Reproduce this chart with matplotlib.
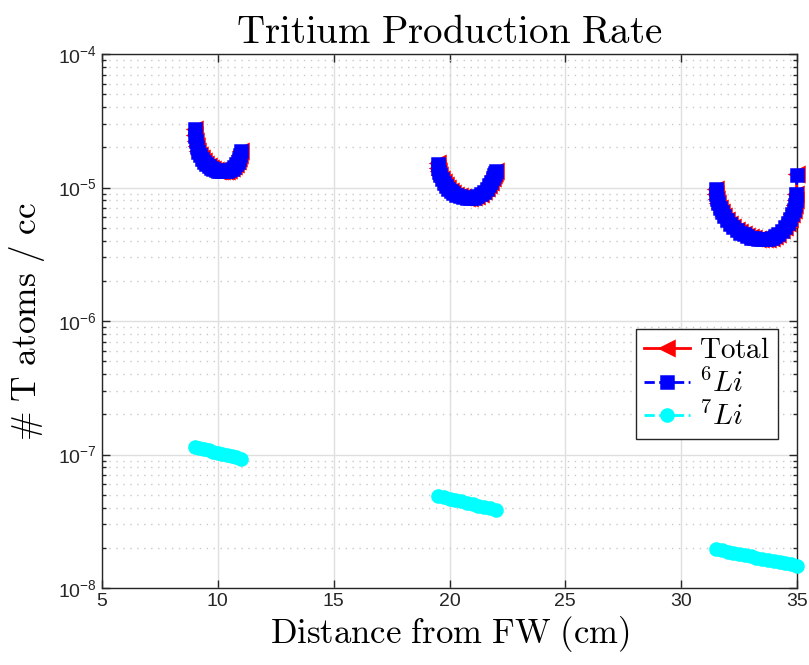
import matplotlib
matplotlib.use("Agg")
import matplotlib.pyplot as plt
import numpy as np

plt.rcParams["mathtext.fontset"] = "custom"
plt.rcParams["mathtext.rm"] = "Liberation Sans"
plt.rcParams["mathtext.it"] = "Liberation Sans:italic"
plt.rcParams["mathtext.bf"] = "Liberation Sans:bold"
plt.rcParams["font.family"] = ["Liberation Sans", "DejaVu Sans"]

# Breeder zone 1 (9-11 cm)
x_z1 = [9.00, 9.02, 9.05, 9.10, 9.16, 9.23, 9.31, 9.40, 9.50, 9.60, 9.70, 9.80, 9.90,
        10.00, 10.10, 10.20, 10.30, 10.40, 10.50, 10.60, 10.70, 10.78, 10.85, 10.91,
        10.96, 11.00]
li6_z1 = [2.72e-5, 2.45e-5, 2.22e-5, 2.02e-5, 1.86e-5, 1.74e-5, 1.64e-5, 1.56e-5,
          1.49e-5, 1.44e-5, 1.40e-5, 1.37e-5, 1.35e-5, 1.33e-5, 1.32e-5, 1.32e-5,
          1.32e-5, 1.33e-5, 1.35e-5, 1.38e-5, 1.43e-5, 1.49e-5, 1.56e-5, 1.64e-5,
          1.74e-5, 1.88e-5]
tot_z1 = [2.73e-5, 2.46e-5, 2.23e-5, 2.03e-5, 1.87e-5, 1.75e-5, 1.65e-5, 1.57e-5,
          1.50e-5, 1.45e-5, 1.41e-5, 1.38e-5, 1.36e-5, 1.34e-5, 1.33e-5, 1.33e-5,
          1.33e-5, 1.34e-5, 1.36e-5, 1.39e-5, 1.44e-5, 1.50e-5, 1.57e-5, 1.65e-5,
          1.75e-5, 1.89e-5]

# Breeder zone 2 (19.5-22 cm)
x_z2 = [19.50, 19.52, 19.55, 19.60, 19.67, 19.75, 19.85, 19.95, 20.05, 20.15, 20.30,
        20.45, 20.60, 20.75, 20.90, 21.05, 21.20, 21.35, 21.50, 21.62, 21.72, 21.81,
        21.88, 21.94, 21.98, 22.00]
li6_z2 = [1.51e-5, 1.40e-5, 1.31e-5, 1.23e-5, 1.15e-5, 1.09e-5, 1.03e-5, 9.8e-6,
          9.4e-6, 9.1e-6, 8.8e-6, 8.6e-6, 8.45e-6, 8.35e-6, 8.35e-6, 8.4e-6, 8.6e-6,
          8.9e-6, 9.3e-6, 9.8e-6, 1.04e-5, 1.10e-5, 1.17e-5, 1.24e-5, 1.29e-5, 1.33e-5]
tot_z2 = [1.52e-5, 1.41e-5, 1.32e-5, 1.24e-5, 1.16e-5, 1.10e-5, 1.04e-5, 9.85e-6,
          9.45e-6, 9.15e-6, 8.85e-6, 8.65e-6, 8.5e-6, 8.4e-6, 8.4e-6, 8.45e-6, 8.65e-6,
          8.95e-6, 9.35e-6, 9.85e-6, 1.045e-5, 1.105e-5, 1.175e-5, 1.245e-5, 1.295e-5,
          1.335e-5]

# Breeder zone 3 (31.5-35 cm)
x_z3 = [31.50, 31.52, 31.55, 31.60, 31.67, 31.75, 31.85, 31.97, 32.10, 32.25, 32.40,
        32.55, 32.70, 32.85, 33.00, 33.15, 33.30, 33.45, 33.60, 33.75, 33.90, 34.05,
        34.20, 34.35, 34.48, 34.60, 34.70, 34.78, 34.85, 34.90, 34.94, 34.97, 35.00]
li6_z3 = [9.8e-6, 8.9e-6, 8.2e-6, 7.6e-6, 7.0e-6, 6.5e-6, 6.1e-6, 5.7e-6, 5.35e-6,
          5.05e-6, 4.8e-6, 4.6e-6, 4.45e-6, 4.32e-6, 4.22e-6, 4.15e-6, 4.1e-6, 4.08e-6,
          4.08e-6, 4.12e-6, 4.2e-6, 4.32e-6, 4.5e-6, 4.75e-6, 5.05e-6, 5.4e-6, 5.8e-6,
          6.3e-6, 6.8e-6, 7.4e-6, 8.1e-6, 8.9e-6, 1.25e-5]
tot_z3 = [9.82e-6, 8.92e-6, 8.22e-6, 7.62e-6, 7.02e-6, 6.52e-6, 6.12e-6, 5.72e-6,
          5.37e-6, 5.07e-6, 4.82e-6, 4.62e-6, 4.47e-6, 4.34e-6, 4.24e-6, 4.17e-6,
          4.12e-6, 4.1e-6, 4.1e-6, 4.14e-6, 4.22e-6, 4.34e-6, 4.52e-6, 4.77e-6,
          5.07e-6, 5.42e-6, 5.82e-6, 6.32e-6, 6.82e-6, 7.42e-6, 8.12e-6, 8.92e-6,
          1.252e-5]

# Li-7 contribution in each zone
x7_z1 = [9.0, 9.2, 9.4, 9.6, 9.8, 10.0, 10.2, 10.4, 10.6, 10.8, 11.0]
li7_z1 = [1.14e-7, 1.117e-7, 1.095e-7, 1.073e-7, 1.051e-7, 1.030e-7, 1.009e-7,
          9.89e-8, 9.69e-8, 9.50e-8, 9.30e-8]
x7_z2 = [19.5, 19.75, 20.0, 20.25, 20.5, 20.75, 21.0, 21.25, 21.5, 21.75, 22.0]
li7_z2 = [4.90e-8, 4.78e-8, 4.67e-8, 4.56e-8, 4.45e-8, 4.35e-8, 4.24e-8, 4.14e-8,
          4.05e-8, 3.95e-8, 3.86e-8]
x7_z3 = [31.5, 31.75, 32.0, 32.25, 32.5, 32.75, 33.0, 33.25, 33.5, 33.75, 34.0,
         34.25, 34.5, 34.75, 35.0]
li7_z3 = [1.95e-8, 1.91e-8, 1.87e-8, 1.83e-8, 1.80e-8, 1.76e-8, 1.73e-8, 1.69e-8,
          1.66e-8, 1.63e-8, 1.59e-8, 1.56e-8, 1.53e-8, 1.50e-8, 1.47e-8]

zones = [
    (x_z1, tot_z1, li6_z1, x7_z1, li7_z1),
    (x_z2, tot_z2, li6_z2, x7_z2, li7_z2),
    (x_z3, tot_z3, li6_z3, x7_z3, li7_z3),
]

fig = plt.figure(figsize=(8.09, 6.65), dpi=100)
ax = fig.add_axes([102 / 809, 1 - 588 / 665, 695 / 809, 534 / 665])

red = "#ff0000"
blue = "#0000ff"
cyan = "#00ffff"

for i, (xz, tz, l6, x7, l7) in enumerate(zones):
    ax.plot(xz, tz, color=red, ls="-", lw=2, marker="<", ms=10, mew=1.8,
            mfc=red, mec=red, clip_on=False, zorder=3,
            label=r"$\mathrm{Total}$" if i == 0 else None)
    ax.plot(xz, l6, color=blue, ls="--", lw=2, marker="s", ms=8.5, mew=1.8,
            mfc=blue, mec=blue, clip_on=False, zorder=4,
            label=r"$^{6}Li$" if i == 0 else None)
    ax.plot(x7, l7, color=cyan, ls="--", lw=2, marker="o", ms=9, mew=1.5,
            mfc=cyan, mec=cyan, clip_on=False, zorder=4,
            label=r"$^{7}Li$" if i == 0 else None)

ax.set_yscale("log")
ax.set_xlim(5, 35)
ax.set_ylim(1e-8, 1e-4)
ax.set_xticks([5, 10, 15, 20, 25, 30, 35])

ax.grid(True, which="major", color="#dfdfdf", lw=1, ls="-")
ax.grid(True, which="minor", axis="y", color="#c8c8c8", lw=1, ls=(0, (1, 4)))
ax.set_axisbelow(True)

ax.tick_params(which="both", direction="in", top=True, right=True,
               labelsize=14, colors="#262626", width=1)
ax.tick_params(which="major", length=6)
ax.tick_params(which="minor", length=3)
ax.tick_params(axis="x", which="minor", bottom=False, top=False)
for sp in ax.spines.values():
    sp.set_color("#262626")
    sp.set_linewidth(1)

t = ax.set_title(r"$\mathrm{Tritium\ Production\ Rate}$", fontsize=28, pad=8)
t.set_math_fontfamily("cm")
xl = ax.set_xlabel(r"$\mathrm{Distance\ from\ FW\ (cm)}$", fontsize=25, labelpad=3)
xl.set_math_fontfamily("cm")
yl = ax.set_ylabel(r"$\mathrm{\#\ T\ atoms\ /\ cc}$", fontsize=25.5, labelpad=8)
yl.set_math_fontfamily("cm")

leg = ax.legend(loc="upper right", bbox_to_anchor=(0.972, 0.485), fontsize=21,
                frameon=True, fancybox=False, framealpha=1, edgecolor="#262626",
                handlelength=1.6, handletextpad=0.3, borderpad=0.25,
                labelspacing=0.15, borderaxespad=0)
leg.get_frame().set_linewidth(1)
for txt in leg.get_texts():
    txt.set_math_fontfamily("cm")

fig.savefig("out.png", dpi=100)
